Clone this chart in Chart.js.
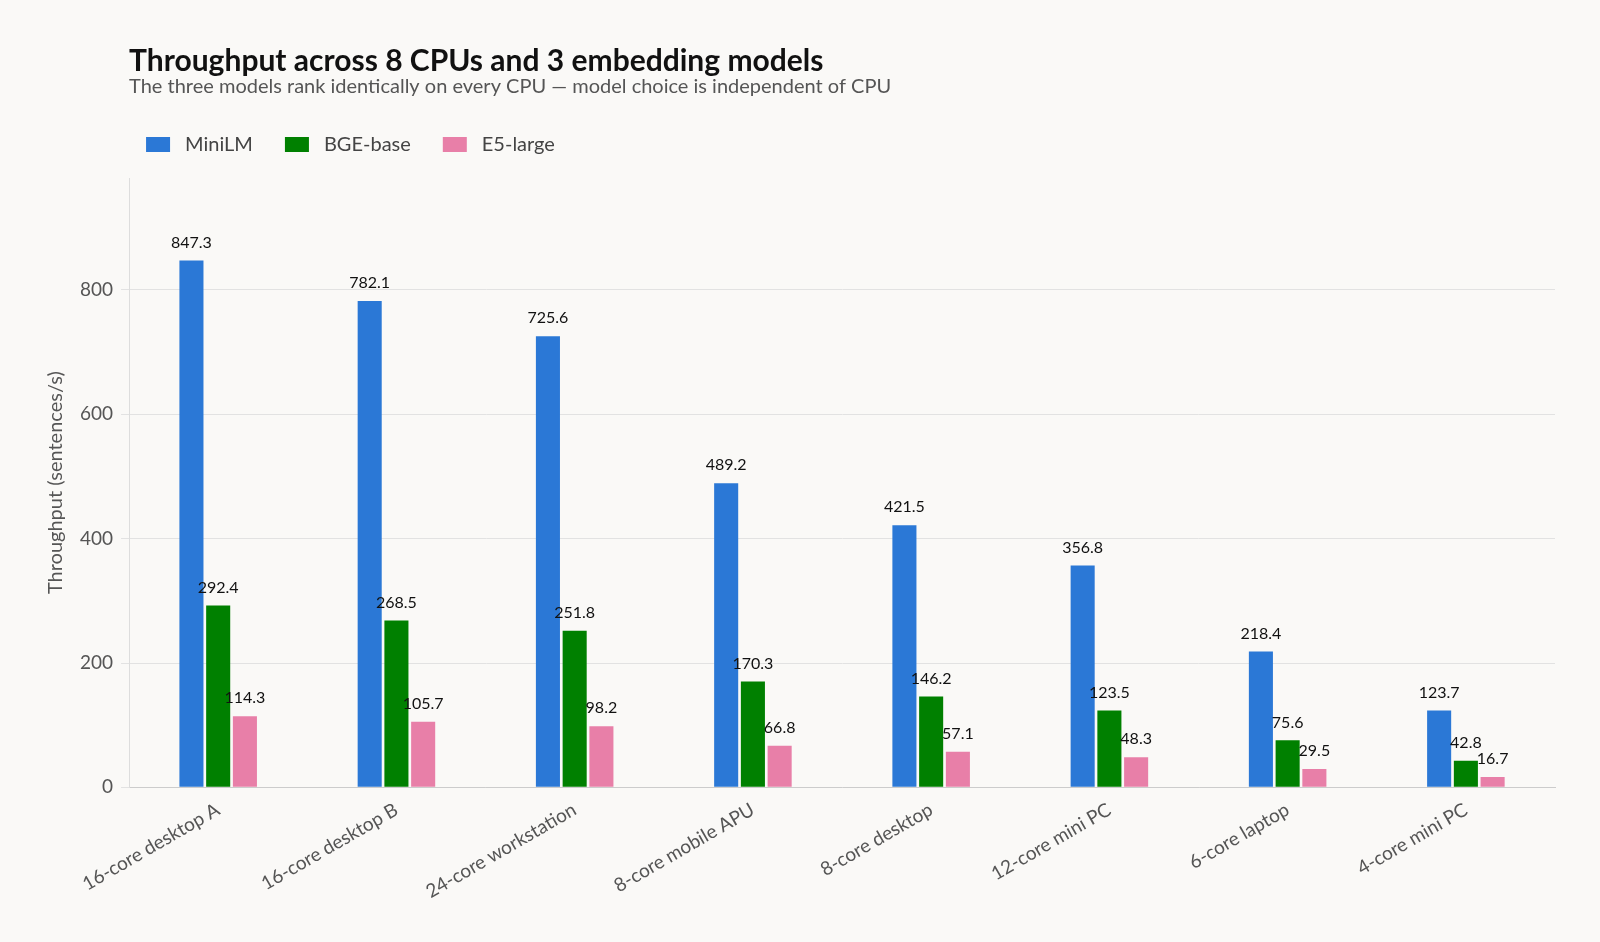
<!DOCTYPE html>
<html>
<head>
<meta charset="utf-8">
<script src="https://cdn.jsdelivr.net/npm/chart.js@4/dist/chart.umd.min.js"></script>
<style>
  html, body { margin: 0; background: #faf9f7; }
  #wrap { width: 1600px; height: 942px; }
</style>
</head>
<body>
<div id="wrap"><canvas id="throughput-chart"></canvas></div>
<script>
const cpus = ["16-core desktop A", "16-core desktop B", "24-core workstation", "8-core mobile APU",
  "8-core desktop", "12-core mini PC", "6-core laptop", "4-core mini PC"];
const miniLM = [847.3, 782.1, 725.6, 489.2, 421.5, 356.8, 218.4, 123.7];
const bgeBase = [292.4, 268.5, 251.8, 170.3, 146.2, 123.5, 75.6, 42.8];
const e5Large = [114.3, 105.7, 98.2, 66.8, 57.1, 48.3, 29.5, 16.7];
const yTicks = [0, 200, 400, 600, 800];

const fontFamily = "'Source Sans Pro', Lato, 'Noto Sans', sans-serif";
const titleText = "Throughput across 8 CPUs and 3 embedding models";
const subtitleText = "The three models rank identically on every CPU \u2014 model choice is independent of CPU";

// title, subtitle and legend aligned to the plot area
const header = {
  id: "header",
  afterDraw(chart) {
    const ctx = chart.ctx;
    const left = chart.chartArea.left;
    ctx.save();
    ctx.textAlign = "left";
    ctx.textBaseline = "middle";
    ctx.fillStyle = "#111";
    ctx.font = "bold 30px " + fontFamily;
    ctx.fillText(titleText, left, 61);
    ctx.fillStyle = "#555";
    ctx.font = "20px " + fontFamily;
    ctx.fillText(subtitleText, left, 87);
    let x = left + 17;
    chart.data.datasets.forEach(ds => {
      ctx.fillStyle = ds.backgroundColor;
      ctx.fillRect(x, 137, 24, 15);
      ctx.fillStyle = "#444";
      ctx.fillText(ds.label, x + 39, 145);
      x += 39 + ctx.measureText(ds.label).width + 32;
    });
    ctx.restore();
  },
};

// draw value above each bar
const valueLabels = {
  id: "valueLabels",
  afterDatasetsDraw(chart) {
    const ctx = chart.ctx;
    ctx.save();
    ctx.font = "16px " + fontFamily;
    ctx.fillStyle = "#111";
    ctx.textAlign = "center";
    ctx.textBaseline = "bottom";
    chart.data.datasets.forEach((ds, i) => {
      chart.getDatasetMeta(i).data.forEach((bar, j) => {
        ctx.fillText(ds.data[j].toFixed(1), bar.x, bar.y - 10);
      });
    });
    ctx.restore();
  },
};

const config = {
  type: "bar",
  data: {
    labels: cpus,
    datasets: [
      { label: "MiniLM", data: miniLM, backgroundColor: "#2b78d6" },
      { label: "BGE-base", data: bgeBase, backgroundColor: "#008000" },
      { label: "E5-large", data: e5Large, backgroundColor: "#e87fa8" },
    ],
  },
  options: {
    responsive: true,
    maintainAspectRatio: false,
    animation: false,
    layout: { padding: { left: 40, right: 45, top: 178, bottom: 36 } },
    datasets: { bar: { categoryPercentage: 0.45, barPercentage: 0.9 } },
    plugins: {
      legend: { display: false },
      tooltip: { enabled: false },
    },
    scales: {
      x: {
        grid: { display: false },
        border: { color: "#ccc" },
        ticks: {
          minRotation: 30, maxRotation: 30,
          color: "#555",
          font: { family: fontFamily, size: 19 },
        },
      },
      y: {
        min: 0,
        max: 980,
        afterBuildTicks(axis) { axis.ticks = yTicks.map(v => ({ value: v })); },
        grid: { color: "#e2e2e2" },
        border: { color: "#ddd" },
        ticks: { color: "#555", padding: 8, font: { family: fontFamily, size: 19 } },
        title: {
          display: true,
          text: "Throughput (sentences/s)",
          color: "#555",
          font: { family: fontFamily, size: 20 },
        },
      },
    },
  },
  plugins: [valueLabels, header],
};

new Chart(document.getElementById("throughput-chart"), config);
</script>
</body>
</html>
